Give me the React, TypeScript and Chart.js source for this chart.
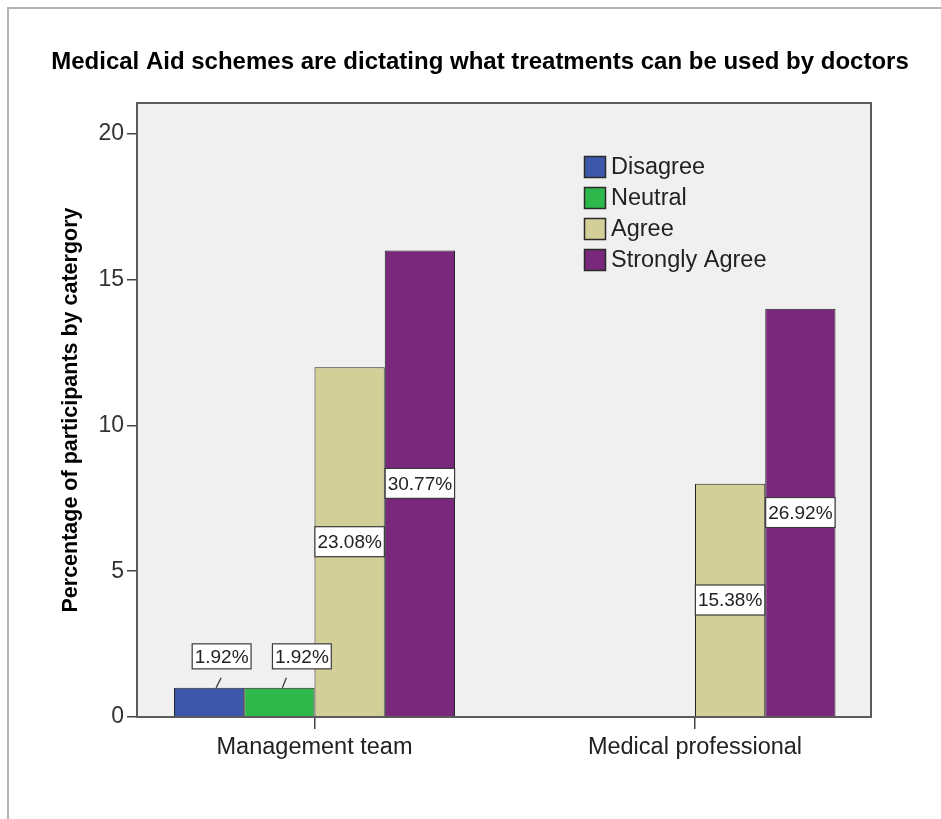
import React, { useEffect, useRef } from 'react';
import { Chart, registerables } from 'chart.js';

Chart.register(...registerables);

const TITLE = 'Medical Aid schemes are dictating what treatments can be used by doctors';
const Y_TITLE = 'Percentage of participants by catergory';
const categories = ['Management team', 'Medical professional'];
const seriesNames = ['Disagree', 'Neutral', 'Agree', 'Strongly Agree'];
const disagree = [1, null];
const neutral = [1, null];
const agree = [12, 8];
const stronglyAgree = [16, 14];
const disagreeLabels = ['1.92%', null];
const neutralLabels = ['1.92%', null];
const agreeLabels = ['23.08%', '15.38%'];
const stronglyAgreeLabels = ['30.77%', '26.92%'];
const yMax = 21.06;
const yStep = 5;

const colors = ['#3d58ab', '#2eb84b', '#d3cf98', '#7a287c'];
const FONT = "'Liberation Sans', Arial, Helvetica, sans-serif";

const seriesValues = [disagree, neutral, agree, stronglyAgree];
const seriesLabels = [disagreeLabels, neutralLabels, agreeLabels, stronglyAgreeLabels];

// label placement styles for labels drawn above small bars
const outsideBoxShift = [12.5, 22.5, 12, 12];
const leaderShift = [[7, 12], [3, 7], [5, 9], [5, 9]];

const framePlugin = {
  id: 'frame',
  beforeDraw(chart: any) {
    const { ctx, chartArea: a, width, height } = chart;
    ctx.save();
    ctx.fillStyle = '#ffffff';
    ctx.fillRect(0, 0, width, height);
    ctx.strokeStyle = '#b4b4b4';
    ctx.lineWidth = 2;
    ctx.beginPath();
    ctx.moveTo(8, height);
    ctx.lineTo(8, 8);
    ctx.lineTo(width, 8);
    ctx.stroke();
    ctx.fillStyle = '#f0f0f0';
    ctx.fillRect(a.left, a.top, a.right - a.left, a.bottom - a.top);
    ctx.fillStyle = '#000';
    ctx.font = `bold 24px ${FONT}`;
    ctx.textAlign = 'center';
    ctx.textBaseline = 'middle';
    ctx.fillText(TITLE, 480, 62);
    ctx.restore();
  },
  afterDraw(chart: any) {
    const { ctx, chartArea: a } = chart;
    ctx.save();
    ctx.strokeStyle = '#5a5a5a';
    ctx.lineWidth = 2;
    ctx.strokeRect(a.left, a.top, a.right - a.left, a.bottom - a.top);
    // legend
    const bx = a.left + 447;
    const by = a.top + 64;
    ctx.font = `23.5px ${FONT}`;
    ctx.textAlign = 'left';
    ctx.textBaseline = 'middle';
    chart.data.datasets.forEach((ds: any, i: number) => {
      const cy = by + i * 31;
      ctx.fillStyle = ds.backgroundColor;
      ctx.fillRect(bx, cy - 11, 22, 22);
      ctx.strokeStyle = '#2a2a2a';
      ctx.lineWidth = 1.5;
      ctx.strokeRect(bx + 0.5, cy - 10.5, 21, 21);
      ctx.fillStyle = '#222';
      ctx.fillText(ds.label, bx + 27, cy + 1);
    });
    ctx.restore();
  },
  afterDatasetsDraw(chart: any) {
    const { ctx } = chart;
    ctx.save();
    ctx.font = `19px ${FONT}`;
    ctx.textAlign = 'center';
    ctx.textBaseline = 'middle';
    chart.data.datasets.forEach((ds: any, di: number) => {
      const meta = chart.getDatasetMeta(di);
      meta.data.forEach((el: any, i: number) => {
        const lab = ds.valueLabels[i];
        if (!lab) return;
        const { x, y, base } = el.getProps(['x', 'y', 'base'], true);
        const tw = ctx.measureText(lab).width;
        const w = tw + 5;
        let cx: number, cy: number, h: number;
        if (base - y > 60) {
          cx = x;
          cy = (y + base) / 2;
          h = 30;
        } else {
          cx = x + outsideBoxShift[di];
          h = 25;
          cy = y - 19 - h / 2;
          ctx.strokeStyle = '#333';
          ctx.lineWidth = 1.2;
          ctx.beginPath();
          ctx.moveTo(x + leaderShift[di][0], y);
          ctx.lineTo(x + leaderShift[di][1], y - 10);
          ctx.stroke();
        }
        ctx.fillStyle = '#fff';
        ctx.fillRect(cx - w / 2, cy - h / 2, w, h);
        ctx.strokeStyle = '#3a3a3a';
        ctx.lineWidth = 1.2;
        ctx.strokeRect(cx - w / 2, cy - h / 2, w, h);
        ctx.fillStyle = '#222';
        ctx.fillText(lab, cx, cy + 1);
      });
    });
    ctx.restore();
  },
};

export default function App() {
  const ref = useRef<HTMLCanvasElement | null>(null);
  useEffect(() => {
    if (!ref.current) return;
    const datasets = seriesNames.map((name, si) => ({
      label: name,
      data: seriesValues[si].map((v, i) => ({ x: i, y: v })),
      valueLabels: seriesLabels[si],
      backgroundColor: colors[si],
      borderColor: '#222',
      borderWidth: 1,
      categoryPercentage: 0.7385,
      barPercentage: 1,
    }));
    const chart = new Chart(ref.current, {
      type: 'bar',
      data: { datasets } as any,
      plugins: [framePlugin],
      options: {
        animation: false,
        responsive: false,
        layout: { padding: { top: 103, right: 70, left: 0, bottom: 0 } },
        plugins: { legend: { display: false }, tooltip: { enabled: false }, title: { display: false } },
        scales: {
          x: {
            type: 'linear',
            offset: false,
            min: -0.4665,
            max: 1.4626,
            afterFit: (s: any) => { s.height = 102; },
            afterBuildTicks: (s: any) => { s.ticks = categories.map((_, i) => ({ value: i })); },
            grid: { offset: false, drawOnChartArea: false, drawTicks: true, tickLength: 12, color: '#444', lineWidth: 1.5 },
            border: { display: true, color: '#555', width: 2 },
            ticks: {
              stepSize: 1,
              includeBounds: false,
              padding: 4,
              color: '#222',
              font: { family: FONT, size: 23.5 },
              callback: (v: any) => categories[v] ?? '',
              maxRotation: 0,
              autoSkip: false,
            },
          },
          y: {
            min: 0,
            max: yMax,
            afterFit: (s: any) => { s.width = 137; },
            grid: { drawOnChartArea: false, drawTicks: true, tickLength: 10, color: '#444', lineWidth: 1.5 },
            border: { display: true, color: '#555', width: 2 },
            ticks: {
              stepSize: yStep,
              includeBounds: false,
              padding: 3,
              color: '#333',
              font: { family: FONT, size: 23 },
            },
            title: {
              display: true,
              text: Y_TITLE,
              color: '#000',
              font: { family: FONT, size: 21.5, weight: 'bold' },
              padding: { top: 58, bottom: 0 },
            },
          },
        },
      } as any,
    });
    return () => chart.destroy();
  }, []);
  return (
    <div style={{ position: 'absolute', left: 0, top: 0, width: 941, height: 819 }}>
      <canvas ref={ref} width={941} height={819} style={{ display: 'block' }} />
    </div>
  );
}
